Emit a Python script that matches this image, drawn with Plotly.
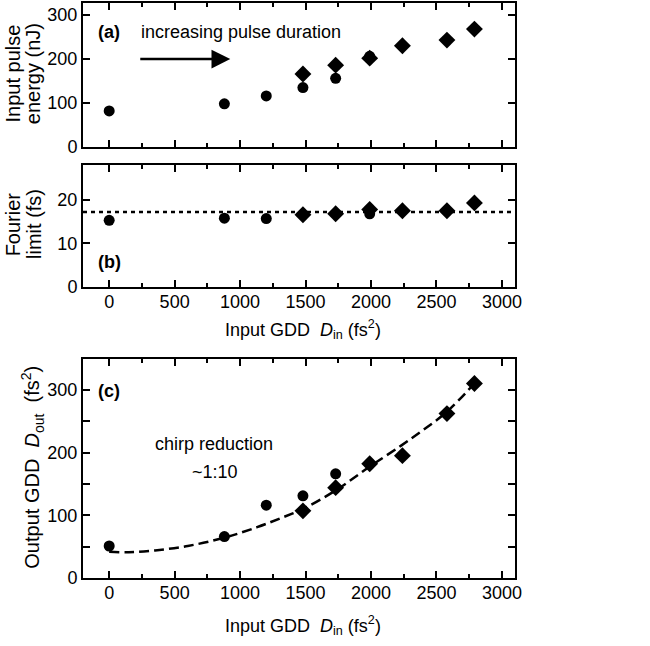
import plotly.graph_objects as go

# ---- data ----
# (a) input pulse energy (nJ)
a_circ_x = [0, 880, 1200, 1480, 1730, 1990]
a_circ_y = [82, 98, 116, 135, 156, 206]
a_diam_x = [1480, 1730, 1990, 2240, 2580, 2790]
a_diam_y = [166, 186, 202, 230, 243, 268]

# (b) Fourier limit (fs)
b_circ_x = [0, 880, 1200, 1990]
b_circ_y = [15.3, 15.8, 15.7, 16.8]
b_diam_x = [1480, 1730, 1990, 2240, 2580, 2790]
b_diam_y = [16.6, 16.8, 17.8, 17.5, 17.5, 19.3]
b_mean = 17.2

# (c) output GDD (fs^2)
c_circ_x = [0, 880, 1200, 1480, 1730]
c_circ_y = [51, 66, 116, 131, 166]
c_diam_x = [1480, 1730, 1990, 2240, 2580, 2790]
c_diam_y = [107, 144, 182, 195, 262, 310]
c_fit_x = [0, 150, 350, 600, 875, 1130, 1330, 1500, 1740, 1980, 2230, 2400, 2580, 2790]
c_fit_y = [42, 41, 44, 51, 64, 81, 97, 112, 141, 176, 211, 236, 265, 310]

x_ticks = [0, 500, 1000, 1500, 2000, 2500, 3000]

FONT = "Liberation Sans, Arial, sans-serif"
FS = 18
FT = 20  # y-axis title size

fig = go.Figure()

circ = dict(mode="markers", marker=dict(symbol="circle", size=11, color="black"), showlegend=False)
diam = dict(mode="markers", marker=dict(symbol="diamond", size=13, color="black"), showlegend=False)

fig.add_trace(go.Scatter(x=a_circ_x, y=a_circ_y, xaxis="x", yaxis="y", **circ))
fig.add_trace(go.Scatter(x=a_diam_x, y=a_diam_y, xaxis="x", yaxis="y", **diam))
fig.add_trace(go.Scatter(x=b_circ_x, y=b_circ_y, xaxis="x2", yaxis="y2", **circ))
fig.add_trace(go.Scatter(x=b_diam_x, y=b_diam_y, xaxis="x2", yaxis="y2", **diam))
fig.add_trace(go.Scatter(x=c_fit_x, y=c_fit_y, xaxis="x3", yaxis="y3", mode="lines",
                         line=dict(color="black", width=2.5, dash="10px,5px", shape="spline"),
                         showlegend=False))
fig.add_trace(go.Scatter(x=c_circ_x, y=c_circ_y, xaxis="x3", yaxis="y3", **circ))
fig.add_trace(go.Scatter(x=c_diam_x, y=c_diam_y, xaxis="x3", yaxis="y3", **diam))

fig.add_shape(type="line", xref="x2 domain", yref="y2", x0=0, x1=1, y0=b_mean, y1=b_mean,
              line=dict(color="black", width=2.5, dash="4px,4px"))

ax_common = dict(showline=True, linecolor="black", linewidth=2, mirror="ticks",
                 ticks="inside", ticklen=7, tickwidth=2, tickcolor="black",
                 showgrid=False, zeroline=False, automargin=False,
                 tickfont=dict(family=FONT, size=FS, color="black"))

xcommon = dict(ax_common, range=[-200, 3100], tickvals=x_ticks, ticklabelstandoff=-3,
               minor=dict(dtick=250, tick0=0, ticks="inside", ticklen=4, tickwidth=2, tickcolor="black"))

dom_a = [0.7483, 0.998]
dom_b = [0.5052, 0.7170]
dom_c = [0.0, 0.3802]

fig.update_layout(
    width=650, height=646,
    margin=dict(l=83, r=135, t=2, b=68),
    paper_bgcolor="white", plot_bgcolor="white",
    font=dict(family=FONT, size=FS, color="black"),
    xaxis=dict(xcommon, anchor="y", showticklabels=False),
    yaxis=dict(ax_common, domain=dom_a, range=[0, 327], tickvals=[0, 100, 200, 300]),
    xaxis2=dict(xcommon, anchor="y2"),
    yaxis2=dict(ax_common, domain=dom_b, range=[0, 28], tickvals=[0, 10, 20]),
    xaxis3=dict(xcommon, anchor="y3"),
    yaxis3=dict(ax_common, domain=dom_c, range=[0, 349], tickvals=[0, 100, 200, 300],
                minor=dict(dtick=50, tick0=0, ticks="inside", ticklen=7, tickwidth=2, tickcolor="black")),
)

ann_font = dict(family=FONT, size=FS, color="black")
tit_font = dict(family=FONT, size=FT, color="black")
C = dict(showarrow=False, font=ann_font, xanchor="center", yanchor="middle")
T = dict(showarrow=False, font=tit_font, xanchor="center", yanchor="middle", textangle=-90,
         xref="paper", yref="paper")
# axis titles
xtitle = "Input GDD  <i>D</i><sub>in</sub> (fs<sup>2</sup>)"
fig.add_annotation(x=0.509, y=0.432, xref="paper", yref="paper", text=xtitle, **C)
fig.add_annotation(x=0.509, y=-0.082, xref="paper", yref="paper", text=xtitle, **C)
fig.add_annotation(x=-0.162, y=0.876, text="Input pulse", **T)
fig.add_annotation(x=-0.114, y=0.876, text="energy (nJ)", **T)
fig.add_annotation(x=-0.162, y=0.614, text="Fourier", **T)
fig.add_annotation(x=-0.112, y=0.614, text="limit (fs)", **T)
fig.add_annotation(x=-0.116, y=0.193, text="Output GDD  <i>D</i><sub>out</sub>  (fs<sup>2</sup>)", **T)

# panel labels and notes
fig.add_annotation(x=0, y=262, xref="x", yref="y", text="<b>(a)</b>", **C)
fig.add_annotation(x=226, y=262, xref="x", yref="y", text="increasing pulse duration",
                   showarrow=False, xanchor="left", yanchor="middle", font=ann_font)
fig.add_annotation(x=925, y=200, ax=226, ay=200, xref="x", yref="y", axref="x", ayref="y",
                   text="", showarrow=True, arrowhead=2, arrowsize=1.5, arrowwidth=2.5,
                   arrowcolor="black")
fig.add_annotation(x=0, y=5.7, xref="x2", yref="y2", text="<b>(b)</b>", **C)
fig.add_annotation(x=0, y=298, xref="x3", yref="y3", text="<b>(c)</b>", **C)
fig.add_annotation(x=803, y=214, xref="x3", yref="y3", text="chirp reduction", **C)
fig.add_annotation(x=810, y=169, xref="x3", yref="y3", text="~1:10", **C)

fig.write_html("out.html", config={"displayModeBar": False},
               post_script="document.body.style.margin='0px';")
